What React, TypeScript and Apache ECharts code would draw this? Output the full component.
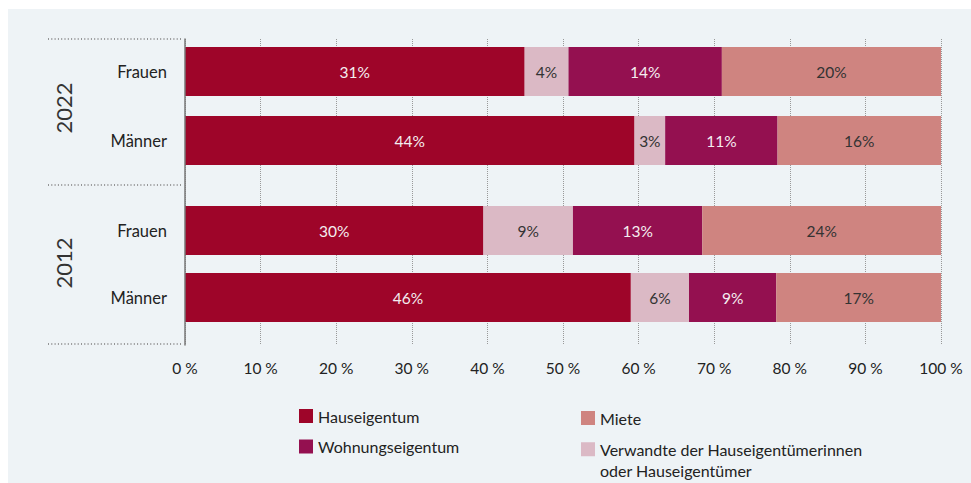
import React, { useEffect, useRef } from 'react';
import * as echarts from 'echarts';

const years = ['2022', '2012'];
const genders = ['Frauen', 'Männer'];
const seriesNames = [
  'Hauseigentum',
  'Verwandte der Hauseigentümerinnen oder Hauseigentümer',
  'Wohnungseigentum',
  'Miete',
];
const xTicks = [0, 10, 20, 30, 40, 50, 60, 70, 80, 90, 100];

// raw shares in % (Frauen, Männer)
const hauseigentum2022 = [31, 44];
const verwandte2022 = [4, 3];
const wohnungseigentum2022 = [14, 11];
const miete2022 = [20, 16];
const hauseigentum2012 = [30, 46];
const verwandte2012 = [9, 6];
const wohnungseigentum2012 = [13, 9];
const miete2012 = [24, 17];

const colors = ['#9e0529', '#dbb9c5', '#941050', '#cf8480'];
const labelColors = ['#f4eef0', '#333333', '#f4eef0', '#333333'];
const FONT = 'Lato';

export default function App() {
  const ref = useRef<HTMLDivElement>(null);
  useEffect(() => {
    if (!ref.current) return;
    const chart = echarts.init(ref.current, undefined, { renderer: 'svg' });
    const groups = [
      [hauseigentum2022, verwandte2022, wohnungseigentum2022, miete2022],
      [hauseigentum2012, verwandte2012, wohnungseigentum2012, miete2012],
    ];
    const series: any[] = [];
    groups.forEach((g, gi) => {
      const sums = genders.map((_, i) => g.reduce((s, arr) => s + arr[i], 0));
      g.forEach((arr, si) => {
        series.push({
          type: 'bar',
          name: seriesNames[si],
          stack: 'y' + years[gi],
          xAxisIndex: gi + 1,
          yAxisIndex: gi + 1,
          barWidth: 49,
          itemStyle: { color: colors[si] },
          label: {
            show: true,
            position: 'inside',
            color: labelColors[si],
            fontFamily: FONT,
            fontSize: 15.5,
            formatter: (p: any) => p.data.raw + '%',
          },
          data: arr.map((v, i) => ({ value: (v / sums[i]) * 100, raw: v })),
        });
      });
    });

    const legendBase = {
      orient: 'vertical',
      icon: 'rect',
      itemWidth: 14,
      itemHeight: 14,
      padding: 0,
      selectedMode: false,
      textStyle: { fontFamily: FONT, fontSize: 16, color: '#222' },
    };

    chart.setOption({
      animation: false,
      backgroundColor: 'transparent',
      textStyle: { fontFamily: FONT },
      grid: [
        { left: 185, right: 30, top: 39, bottom: 138 },
        { left: 185, right: 30, top: 37, bottom: 308 },
        { left: 185, right: 30, top: 197, bottom: 152 },
      ],
      xAxis: [
        {
          gridIndex: 0,
          type: 'value',
          min: 0,
          max: 100,
          interval: 10,
          axisLine: { show: false },
          axisTick: { show: false },
          splitLine: { show: true, lineStyle: { color: '#999', width: 1, type: [1, 1] } },
          axisLabel: {
            margin: 15,
            fontFamily: FONT,
            fontSize: 15.5,
            color: '#222',
            formatter: (v: number) => (xTicks.includes(v) ? `${v} %` : ''),
          },
        },
        { gridIndex: 1, type: 'value', min: 0, max: 100, show: false },
        { gridIndex: 2, type: 'value', min: 0, max: 100, show: false },
      ],
      yAxis: [
        {
          gridIndex: 0,
          type: 'value',
          min: 0,
          max: 1,
          z: 5,
          axisLine: { show: true, lineStyle: { color: '#777', width: 1.5 } },
          axisTick: { show: false },
          axisLabel: { show: false },
          splitLine: { show: false },
        },
        ...[1, 2].map((gi) => ({
          gridIndex: gi,
          type: 'category',
          inverse: true,
          data: genders,
          axisLine: { show: false },
          axisTick: { show: false },
          splitLine: { show: false },
          axisLabel: { margin: 18, fontFamily: FONT, fontSize: 16.5, color: '#222' },
        })),
      ],
      legend: [
        { ...legendBase, left: 299, top: 408, data: [seriesNames[0]] },
        { ...legendBase, left: 299, top: 438.5, data: [seriesNames[2]] },
        { ...legendBase, left: 581, top: 410, data: [seriesNames[3]] },
        {
          ...legendBase,
          left: 581,
          top: 417,
          data: [seriesNames[1]],
          textStyle: { ...legendBase.textStyle, lineHeight: 21.5 },
          formatter: () => '\nVerwandte der Hauseigentümerinnen\noder Hauseigentümer',
        },
      ],
      graphic: [
        ...[39, 185, 344].map((y) => ({
          type: 'line',
          shape: { x1: 48, y1: y, x2: 183, y2: y },
          style: { stroke: '#777', lineWidth: 1.5, lineDash: [1, 2.3] },
        })),
        ...years.map((yr, i) => ({
          type: 'text',
          x: 63,
          y: i === 0 ? 108 : 263,
          rotation: Math.PI / 2,
          style: {
            text: yr,
            fontFamily: FONT,
            fontSize: 22,
            fill: '#333',
            align: 'center',
            verticalAlign: 'middle',
          },
        })),
      ],
      series,
    });
    return () => chart.dispose();
  }, []);

  return (
    <div style={{ position: 'fixed', left: 0, top: 0, width: 971, height: 483, background: '#fff' }}>
      <div style={{ position: 'absolute', left: 8, top: 9, right: 0, bottom: 0, background: '#eef3f6' }} />
      <div ref={ref} style={{ position: 'absolute', left: 0, top: 0, width: 971, height: 483 }} />
    </div>
  );
}
